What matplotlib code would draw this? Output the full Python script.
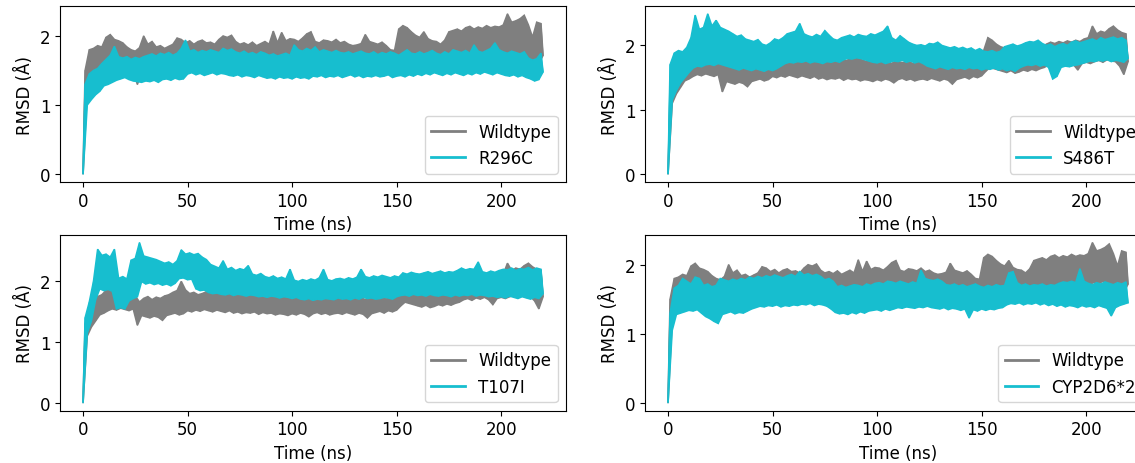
import numpy as np
import matplotlib
matplotlib.use("Agg")
import matplotlib.pyplot as plt
from matplotlib.ticker import MultipleLocator

plt.rcParams["font.size"] = 12

# RMSD traces: "lo" values sit on even ns (0..220),
# "hi" values on odd ns (1..219); the trace alternates between them
t_lo = np.arange(0, 221, 2)
t_hi = np.arange(1, 220, 2)

# wildtype run shown in top-left / bottom-right panels
wt_a_hi = [1.50, 1.80, 1.82, 1.86, 1.84, 1.98, 2.02, 1.95, 1.93, 1.90,
           1.84, 1.80, 1.78, 1.83, 2.00, 1.88, 1.92, 1.84, 1.86, 1.82,
           1.85, 1.88, 1.97, 1.95, 1.90, 1.93, 1.88, 1.92, 1.94, 1.90,
           1.91, 1.88, 1.95, 2.00, 1.98, 2.01, 1.92, 1.88, 1.90, 1.87,
           1.91, 1.86, 1.89, 1.92, 1.88, 2.07, 1.90, 2.05, 1.93, 1.96,
           1.95, 1.92, 1.97, 2.03, 2.06, 1.92, 1.90, 1.94, 1.93, 1.91,
           1.95, 1.90, 1.92, 1.88, 1.86, 1.87, 1.89, 2.02, 1.92, 1.90,
           1.88, 1.91, 1.86, 1.80, 1.79, 2.10, 2.15, 2.12, 2.06, 2.01,
           1.98, 2.06, 1.96, 1.93, 1.92, 1.88, 1.94, 2.06, 2.08, 2.10,
           2.07, 2.12, 2.14, 2.10, 2.13, 2.11, 2.15, 2.12, 2.14, 2.13,
           2.16, 2.32, 2.20, 2.22, 2.25, 2.30, 2.16, 1.98, 2.20, 2.18]
wt_a_lo = [0.00, 1.20, 1.42, 1.50, 1.52, 1.55, 1.58, 1.56, 1.57, 1.55,
           1.54, 1.56, 1.52, 1.30, 1.48, 1.52, 1.50, 1.53, 1.51, 1.42,
           1.52, 1.55, 1.53, 1.56, 1.54, 1.57, 1.55, 1.58, 1.56, 1.55,
           1.57, 1.55, 1.58, 1.56, 1.60, 1.57, 1.58, 1.55, 1.56, 1.54,
           1.55, 1.56, 1.53, 1.55, 1.57, 1.54, 1.56, 1.58, 1.55, 1.57,
           1.54, 1.52, 1.55, 1.53, 1.43, 1.52, 1.54, 1.51, 1.53, 1.50,
           1.52, 1.54, 1.51, 1.50, 1.52, 1.49, 1.44, 1.50, 1.52, 1.50,
           1.51, 1.48, 1.50, 1.49, 1.47, 1.55, 1.62, 1.66, 1.64, 1.60,
           1.62, 1.60, 1.63, 1.58, 1.60, 1.62, 1.59, 1.61, 1.66, 1.70,
           1.68, 1.72, 1.70, 1.73, 1.71, 1.72, 1.74, 1.70, 1.72, 1.73,
           1.74, 1.72, 1.75, 1.73, 1.76, 1.74, 1.70, 1.62, 1.56, 1.60,
           1.72]

# wildtype run shown in top-right / bottom-left panels
wt_b_hi = [1.30, 1.55, 1.60, 1.75, 1.78, 1.85, 1.88, 1.84, 1.87, 1.80,
           1.78, 1.80, 1.76, 1.66, 1.72, 1.75, 1.70, 1.74, 1.72, 1.76,
           1.78, 1.82, 1.85, 2.00, 1.86, 1.80, 1.82, 1.78, 1.80, 1.83,
           1.81, 1.79, 1.84, 1.80, 1.82, 1.85, 1.80, 1.78, 1.81, 1.79,
           1.77, 1.80, 1.76, 1.79, 1.78, 1.81, 1.77, 1.75, 1.78, 1.74,
           1.76, 1.73, 1.75, 1.72, 1.76, 1.74, 1.73, 1.75, 1.72, 1.74,
           1.73, 1.76, 1.72, 1.74, 1.71, 1.75, 1.73, 1.70, 1.74, 1.72,
           1.75, 1.73, 1.71, 1.74, 1.76, 1.92, 2.12, 2.08, 2.02, 1.98,
           1.96, 1.94, 1.90, 1.88, 1.86, 1.89, 1.87, 1.90, 1.92, 1.98,
           2.02, 2.05, 2.03, 2.06, 2.04, 2.07, 2.05, 2.08, 2.06, 2.10,
           2.12, 2.30, 2.18, 2.22, 2.20, 2.26, 2.30, 2.24, 2.20, 2.18]
wt_b_lo = [0.00, 1.10, 1.25, 1.35, 1.45, 1.48, 1.52, 1.55, 1.53, 1.56,
           1.54, 1.52, 1.55, 1.28, 1.44, 1.42, 1.40, 1.43, 1.41, 1.36,
           1.44, 1.46, 1.48, 1.45, 1.47, 1.52, 1.50, 1.53, 1.51, 1.54,
           1.52, 1.50, 1.53, 1.51, 1.49, 1.52, 1.48, 1.50, 1.47, 1.49,
           1.48, 1.50, 1.46, 1.49, 1.47, 1.48, 1.45, 1.47, 1.46, 1.44,
           1.47, 1.45, 1.48, 1.46, 1.42, 1.47, 1.49, 1.46, 1.48, 1.45,
           1.47, 1.48, 1.46, 1.49, 1.47, 1.45, 1.48, 1.46, 1.40, 1.47,
           1.49, 1.51, 1.48, 1.52, 1.50, 1.53, 1.60, 1.66, 1.64, 1.62,
           1.60, 1.58, 1.61, 1.57, 1.59, 1.62, 1.60, 1.63, 1.61, 1.64,
           1.66, 1.70, 1.72, 1.69, 1.73, 1.71, 1.74, 1.70, 1.62, 1.72,
           1.74, 1.72, 1.75, 1.77, 1.74, 1.78, 1.76, 1.75, 1.68, 1.55,
           1.75]

r296c_hi = [1.30, 1.45, 1.50, 1.53, 1.60, 1.66, 1.72, 1.85, 1.70, 1.68,
            1.70, 1.66, 1.69, 1.67, 1.70, 1.72, 1.74, 1.71, 1.75, 1.73,
            1.76, 1.72, 1.75, 1.82, 1.94, 1.78, 1.80, 1.76, 1.79, 1.77,
            1.80, 1.78, 1.76, 1.82, 1.79, 1.81, 1.77, 1.75, 1.78, 1.74,
            1.76, 1.73, 1.77, 1.75, 1.72, 1.74, 1.71, 1.73, 1.75, 1.72,
            1.87, 1.80, 1.78, 1.82, 1.79, 1.84, 1.77, 1.80, 1.78, 1.76,
            1.79, 1.76, 1.75, 1.77, 1.74, 1.76, 1.78, 1.75, 1.74, 1.77,
            1.73, 1.76, 1.74, 1.77, 1.75, 1.72, 1.76, 1.80, 1.75, 1.74,
            1.77, 1.74, 1.76, 1.79, 1.75, 1.73, 1.77, 1.74, 1.80, 1.78,
            1.76, 1.79, 1.75, 1.87, 1.78, 1.76, 1.79, 1.82, 1.90, 1.80,
            1.77, 1.75, 1.78, 1.76, 1.74, 1.77, 1.68, 1.65, 1.67, 1.75]
r296c_lo = [0.00, 1.00, 1.08, 1.15, 1.20, 1.28, 1.30, 1.33, 1.36, 1.38,
            1.40, 1.37, 1.35, 1.34, 1.33, 1.35, 1.34, 1.36, 1.33, 1.37,
            1.38, 1.36, 1.39, 1.37, 1.38, 1.45, 1.47, 1.44, 1.46, 1.43,
            1.45, 1.47, 1.44, 1.46, 1.45, 1.43, 1.42, 1.44, 1.41, 1.43,
            1.42, 1.40, 1.43, 1.41, 1.39, 1.40, 1.38, 1.41, 1.39, 1.40,
            1.38, 1.41, 1.39, 1.40, 1.38, 1.42, 1.41, 1.43, 1.40, 1.42,
            1.41, 1.43, 1.40, 1.42, 1.44, 1.41, 1.43, 1.40, 1.42, 1.41,
            1.43, 1.41, 1.42, 1.44, 1.40, 1.42, 1.43, 1.41, 1.44, 1.42,
            1.45, 1.43, 1.46, 1.44, 1.47, 1.45, 1.43, 1.46, 1.44, 1.47,
            1.45, 1.43, 1.46, 1.44, 1.47, 1.45, 1.48, 1.46, 1.44, 1.47,
            1.45, 1.43, 1.42, 1.44, 1.41, 1.43, 1.40, 1.38, 1.35, 1.37,
            1.48]

s486t_hi = [1.70, 1.88, 1.92, 1.90, 1.97, 2.12, 2.47, 2.25, 2.28, 2.49,
            2.30, 2.39, 2.28, 2.25, 2.22, 2.18, 2.14, 2.16, 2.10, 2.08,
            2.06, 2.09, 2.02, 2.00, 2.04, 2.10, 2.08, 2.12, 2.18, 2.20,
            2.22, 2.34, 2.18, 2.15, 2.13, 2.17, 2.14, 2.23, 2.16, 2.10,
            2.08, 2.12, 2.14, 2.16, 2.13, 2.17, 2.15, 2.14, 2.18, 2.16,
            2.19, 2.22, 2.30, 2.12, 2.08, 2.15, 2.10, 2.05, 2.02, 2.00,
            2.01, 1.99, 2.03, 2.02, 2.05, 2.00, 1.98, 1.96, 1.98, 1.95,
            1.97, 1.94, 1.96, 1.92, 1.95, 1.91, 1.90, 1.92, 1.89, 1.91,
            1.98, 2.00, 2.02, 1.99, 2.01, 2.04, 2.06, 2.05, 2.08, 2.03,
            2.00, 2.02, 1.98, 2.01, 2.03, 2.00, 2.05, 2.07, 2.04, 2.06,
            2.08, 2.10, 2.07, 2.12, 2.09, 2.11, 2.13, 2.10, 2.12, 2.08]
s486t_lo = [0.00, 1.15, 1.30, 1.42, 1.50, 1.58, 1.65, 1.68, 1.67, 1.70,
            1.71, 1.69, 1.72, 1.70, 1.68, 1.66, 1.64, 1.62, 1.65, 1.63,
            1.61, 1.64, 1.62, 1.60, 1.63, 1.61, 1.64, 1.68, 1.72, 1.74,
            1.73, 1.75, 1.74, 1.76, 1.73, 1.75, 1.74, 1.72, 1.75, 1.74,
            1.76, 1.74, 1.78, 1.80, 1.79, 1.81, 1.80, 1.78, 1.76, 1.74,
            1.73, 1.75, 1.72, 1.74, 1.76, 1.75, 1.77, 1.74, 1.76, 1.73,
            1.75, 1.72, 1.68, 1.66, 1.64, 1.67, 1.65, 1.63, 1.66, 1.64,
            1.65, 1.63, 1.66, 1.64, 1.65, 1.62, 1.64, 1.63, 1.65, 1.62,
            1.64, 1.61, 1.63, 1.60, 1.65, 1.68, 1.70, 1.69, 1.71, 1.68,
            1.70, 1.66, 1.48, 1.52, 1.66, 1.68, 1.67, 1.69, 1.70, 1.72,
            1.74, 1.76, 1.75, 1.77, 1.76, 1.78, 1.75, 1.77, 1.76, 1.74,
            1.80]

t107i_hi = [1.40, 1.66, 2.00, 2.53, 2.43, 2.45, 2.40, 2.53, 2.05, 2.08,
            2.04, 2.35, 2.38, 2.64, 2.42, 2.40, 2.38, 2.36, 2.33, 2.30,
            2.32, 2.28, 2.34, 2.52, 2.45, 2.47, 2.44, 2.46, 2.40, 2.36,
            2.28, 2.25, 2.22, 2.34, 2.20, 2.23, 2.18, 2.21, 2.19, 2.26,
            2.12, 2.10, 2.13, 2.08, 2.06, 2.09, 2.05, 2.07, 2.04, 2.20,
            2.02, 2.00, 2.03, 2.01, 2.04, 2.02, 2.06, 2.20, 2.03, 2.01,
            2.04, 2.05, 2.03, 2.06, 2.04, 2.07, 2.20, 2.08, 2.06, 2.09,
            2.07, 2.10, 2.08, 2.06, 2.09, 2.07, 2.14, 2.12, 2.15, 2.13,
            2.12, 2.14, 2.16, 2.13, 2.15, 2.17, 2.14, 2.16, 2.15, 2.18,
            2.22, 2.19, 2.21, 2.20, 2.32, 2.16, 2.14, 2.17, 2.15, 2.18,
            2.20, 2.19, 2.22, 2.18, 2.21, 2.20, 2.23, 2.19, 2.22, 2.20]
t107i_lo = [0.00, 1.15, 1.35, 1.70, 1.88, 1.85, 1.87, 1.84, 1.55, 1.57,
            1.55, 1.68, 1.72, 1.75, 2.00, 1.96, 1.98, 1.95, 1.97, 1.94,
            1.96, 1.93, 1.97, 2.05, 2.06, 2.03, 2.04, 1.88, 1.85, 1.86,
            1.82, 1.80, 1.81, 1.79, 1.78, 1.80, 1.77, 1.79, 1.78, 1.76,
            1.78, 1.77, 1.75, 1.76, 1.74, 1.76, 1.75, 1.73, 1.75, 1.74,
            1.72, 1.74, 1.71, 1.70, 1.72, 1.69, 1.71, 1.70, 1.72, 1.71,
            1.70, 1.73, 1.71, 1.72, 1.70, 1.73, 1.71, 1.74, 1.72, 1.73,
            1.71, 1.72, 1.74, 1.73, 1.71, 1.75, 1.77, 1.78, 1.76, 1.79,
            1.77, 1.78, 1.76, 1.79, 1.77, 1.76, 1.78, 1.77, 1.75, 1.78,
            1.76, 1.78, 1.77, 1.79, 1.76, 1.78, 1.77, 1.75, 1.76, 1.74,
            1.75, 1.73, 1.76, 1.74, 1.72, 1.75, 1.73, 1.71, 1.74, 1.72,
            1.80]

cyp2d6_hi = [1.30, 1.66, 1.70, 1.80, 1.76, 1.72, 1.82, 1.80, 1.70, 1.72,
             1.68, 1.70, 1.80, 1.78, 1.76, 1.79, 1.77, 1.80, 1.78, 1.82,
             1.80, 1.83, 1.81, 1.84, 1.82, 1.85, 1.83, 1.81, 1.84, 1.86,
             1.83, 1.90, 1.85, 1.87, 1.84, 1.86, 1.83, 1.78, 1.80, 1.76,
             1.68, 1.70, 1.67, 1.69, 1.71, 1.70, 1.68, 1.72, 1.70, 1.73,
             1.74, 1.72, 1.76, 1.75, 1.73, 1.76, 1.74, 1.72, 1.75, 1.73,
             1.92, 1.80, 1.78, 1.77, 1.79, 1.76, 1.71, 1.70, 1.72, 1.69,
             1.71, 1.68, 1.70, 1.72, 1.69, 1.67, 1.70, 1.68, 1.71, 1.69,
             1.70, 1.88, 1.90, 1.74, 1.70, 1.72, 1.69, 1.71, 1.70, 1.72,
             1.69, 1.71, 1.70, 1.73, 1.75, 1.74, 1.76, 1.74, 1.94, 1.76,
             1.73, 1.71, 1.74, 1.72, 1.75, 1.73, 1.71, 1.74, 1.72, 1.75]
cyp2d6_lo = [0.00, 1.05, 1.28, 1.30, 1.32, 1.34, 1.33, 1.35, 1.30, 1.25,
             1.22, 1.18, 1.15, 1.28, 1.30, 1.32, 1.29, 1.31, 1.30, 1.33,
             1.36, 1.38, 1.40, 1.39, 1.41, 1.40, 1.42, 1.39, 1.41, 1.40,
             1.42, 1.41, 1.43, 1.42, 1.44, 1.41, 1.43, 1.42, 1.40, 1.36,
             1.31, 1.29, 1.30, 1.28, 1.31, 1.29, 1.32, 1.30, 1.33, 1.34,
             1.35, 1.33, 1.36, 1.34, 1.36, 1.38, 1.37, 1.39, 1.38, 1.37,
             1.39, 1.38, 1.40, 1.38, 1.37, 1.36, 1.38, 1.35, 1.37, 1.36,
             1.34, 1.36, 1.23, 1.35, 1.33, 1.36, 1.34, 1.36, 1.35, 1.37,
             1.38, 1.42, 1.44, 1.43, 1.45, 1.42, 1.44, 1.43, 1.45, 1.42,
             1.44, 1.41, 1.43, 1.40, 1.42, 1.39, 1.41, 1.40, 1.38, 1.41,
             1.39, 1.40, 1.38, 1.41, 1.39, 1.37, 1.26, 1.38, 1.41, 1.43,
             1.45]

mutants = ["R296C", "S486T", "T107I", "CYP2D6*2"]
panels = [(wt_a_lo, wt_a_hi, r296c_lo, r296c_hi),
          (wt_b_lo, wt_b_hi, s486t_lo, s486t_hi),
          (wt_b_lo, wt_b_hi, t107i_lo, t107i_hi),
          (wt_a_lo, wt_a_hi, cyp2d6_lo, cyp2d6_hi)]


def draw_trace(ax, lo, hi, color, label, z):
    # noisy band: fill between the odd-ns peaks and even-ns dips,
    # then the trace itself in time order (also gives the legend line)
    ax.fill(np.r_[t_hi, t_lo[::-1]], np.r_[hi, lo[::-1]],
            color=color, lw=1.2, zorder=z)
    x = np.empty(len(t_lo) + len(t_hi))
    y = np.empty_like(x)
    x[0::2], x[1::2] = t_lo, t_hi
    y[0::2], y[1::2] = lo, hi
    ax.plot(x, y, color=color, lw=0.8, label=label, zorder=z)


fig = plt.figure(figsize=(11.35, 4.64), dpi=100)
# right column runs past the edge of the picture, as in the original crop
boxes = [[0.0529, 0.6056, 0.4458, 0.3793],
         [0.5683, 0.6056, 0.4458, 0.3793],
         [0.0529, 0.1127, 0.4458, 0.3793],
         [0.5683, 0.1127, 0.4458, 0.3793]]

for box, name, (wlo, whi, mlo, mhi) in zip(boxes, mutants, panels):
    ax = fig.add_axes(box)
    draw_trace(ax, wlo, whi, "tab:gray", "Wildtype", 2)
    draw_trace(ax, mlo, mhi, "tab:cyan", name, 3)
    ax.yaxis.set_major_locator(MultipleLocator(1))
    ax.set_xlabel("Time (ns)")
    ax.set_ylabel("RMSD (Å)")
    leg = ax.legend(loc="lower right")
    for line in leg.get_lines():
        line.set_linewidth(2)

plt.savefig("out.png", dpi=100)
